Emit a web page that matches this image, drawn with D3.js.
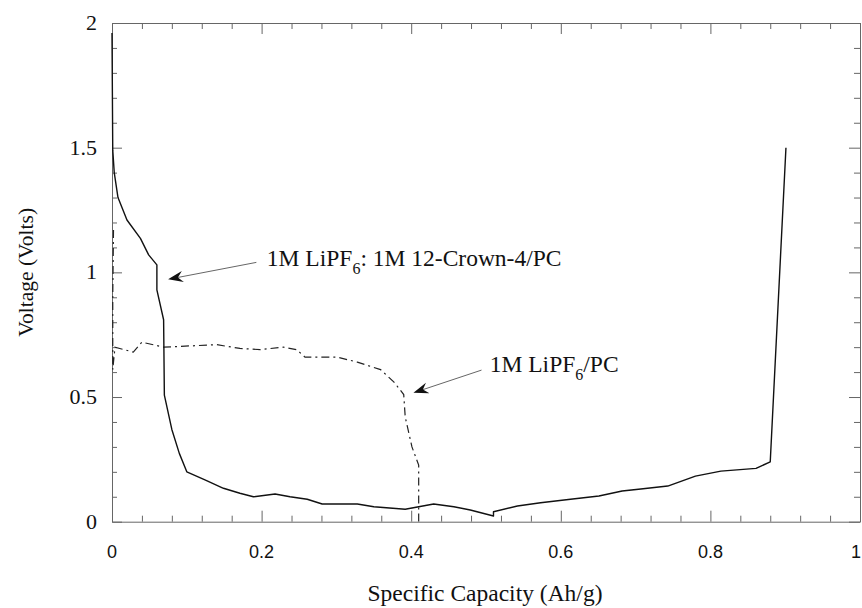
<!DOCTYPE html>
<html>
<head>
<meta charset="utf-8">
<script src="https://cdnjs.cloudflare.com/ajax/libs/d3/7.8.5/d3.min.js"></script>
<style>
  html, body { margin: 0; padding: 0; background: #fff; }
  svg { display: block; }
</style>
</head>
<body>
<div id="chart"></div>
<script>
// ---- Data ----
const crownCapacity = [0, 0.001, 0.003, 0.008, 0.020, 0.038, 0.049, 0.060, 0.060, 0.069, 0.070, 0.080, 0.090, 0.100, 0.125, 0.149, 0.171, 0.189, 0.218, 0.238, 0.261, 0.281, 0.328, 0.350, 0.392, 0.430, 0.457, 0.479, 0.510, 0.510, 0.542, 0.573, 0.613, 0.651, 0.682, 0.707, 0.743, 0.780, 0.814, 0.861, 0.880, 0.901];
const crownVoltage  = [1.96, 1.49, 1.40, 1.30, 1.21, 1.136, 1.07, 1.03, 0.93, 0.81, 0.508, 0.37, 0.274, 0.20, 0.167, 0.134, 0.114, 0.10, 0.111, 0.10, 0.09, 0.071, 0.071, 0.06, 0.05, 0.071, 0.06, 0.047, 0.023, 0.04, 0.063, 0.076, 0.09, 0.103, 0.123, 0.131, 0.143, 0.183, 0.203, 0.214, 0.24, 1.50];

const pcCapacity = [0.002, 0.001, 0.001, 0.004, 0.0285, 0.040, 0.069, 0.140, 0.171, 0.198, 0.229, 0.247, 0.258, 0.301, 0.328, 0.359, 0.377, 0.390, 0.392, 0.401, 0.410, 0.410];
const pcVoltage  = [1.17, 0.90, 0.61, 0.70, 0.68, 0.72, 0.70, 0.71, 0.695, 0.69, 0.70, 0.69, 0.66, 0.66, 0.64, 0.61, 0.56, 0.51, 0.42, 0.30, 0.227, 0.0];

const xTickLabels = ["0", "0.2", "0.4", "0.6", "0.8", "1"];
const xTickValues = [0, 0.2, 0.4, 0.6, 0.8, 1];
const yTickLabels = ["0", "0.5", "1", "1.5", "2"];
const yTickValues = [0, 0.5, 1, 1.5, 2];

const xTitle = "Specific Capacity (Ah/g)";
const yTitle = "Voltage (Volts)";

// annotations (data units)
const annoMain = ["1M LiPF", "1M LiPF"];
const annoSub = ["6", "6"];
const annoRest = [": 1M 12-Crown-4/PC", "/PC"];
const annoTextX = [0.207, 0.505];
const annoTextY = [1.025, 0.600];
const annoFromX = [0.193, 0.494];
const annoFromY = [1.040, 0.608];
const annoTipX = [0.075, 0.403];
const annoTipY = [0.972, 0.517];

// ---- Layout ----
const W = 862, H = 608;
const mLeft = 112, mRight = 860, mTop = 23, mBottom = 521.7;

const svg = d3.select("#chart").append("svg")
  .attr("width", W).attr("height", H);

const x = d3.scaleLinear().domain([0, 1]).range([mLeft, mRight]);
const y = d3.scaleLinear().domain([0, 2]).range([mBottom, mTop]);

const serif = "'Liberation Serif', 'Times New Roman', serif";
const sans = "'Liberation Sans', Arial, sans-serif";
const frameColor = "#666";

const xMinor = d3.range(0, 1.0001, 0.04).map(v => +v.toFixed(2));
const yMinor = d3.range(0, 2.0001, 0.1).map(v => +v.toFixed(1));

function isMajorX(v) { return Math.abs(v * 5 - Math.round(v * 5)) < 1e-6; }
function isMajorY(v) { return Math.abs(v * 2 - Math.round(v * 2)) < 1e-6; }

const bottomAxis = d3.axisBottom(x).tickValues(xMinor).tickFormat("").tickSizeOuter(0).tickSizeInner(-6);
const topAxis = d3.axisTop(x).tickValues(xMinor).tickFormat("").tickSizeOuter(0).tickSizeInner(-6);
const leftAxis = d3.axisLeft(y).tickValues(yMinor).tickFormat("").tickSizeOuter(0).tickSizeInner(-5);
const rightAxis = d3.axisRight(y).tickValues(yMinor).tickFormat("").tickSizeOuter(0).tickSizeInner(-6);

function styleAxis(g, majorFn, dir, majorLen) {
  g.select(".domain").attr("stroke", frameColor).attr("stroke-width", 1);
  g.selectAll(".tick line").attr("stroke", frameColor).attr("stroke-width", 1)
    .each(function(d) {
      if (majorFn(d)) {
        const sel = d3.select(this);
        if (dir === "x") sel.attr("y2", +sel.attr("y2") > 0 ? majorLen : -majorLen);
        else sel.attr("x2", +sel.attr("x2") > 0 ? majorLen : -majorLen);
      }
    });
}

const gB = svg.append("g").attr("transform", `translate(0,${mBottom})`).call(bottomAxis);
styleAxis(gB, isMajorX, "x", 11);
const gT = svg.append("g").attr("transform", `translate(0,${mTop})`).call(topAxis);
styleAxis(gT, isMajorX, "x", 11);
const gL = svg.append("g").attr("transform", `translate(${mLeft},0)`).call(leftAxis);
styleAxis(gL, isMajorY, "y", 10);
const gR = svg.append("g").attr("transform", `translate(${mRight},0)`).call(rightAxis);
styleAxis(gR, isMajorY, "y", 11);

// tick labels
const lastX = xTickValues.length - 1;
svg.append("g").selectAll("text").data(xTickValues).join("text")
  .attr("x", (d, i) => i === lastX ? x(d) + 1 : x(d)).attr("y", 558)
  .attr("text-anchor", (d, i) => i === lastX ? "end" : "middle")
  .attr("font-family", sans).attr("font-size", 18).attr("fill", "#111")
  .text((d, i) => xTickLabels[i]);

svg.append("g").selectAll("text").data(yTickValues).join("text")
  .attr("x", mLeft - 15).attr("y", d => y(d) + 7)
  .attr("text-anchor", "end")
  .attr("font-family", serif).attr("font-size", 22).attr("fill", "#111")
  .text((d, i) => yTickLabels[i]);

// axis titles
svg.append("text")
  .attr("x", 485).attr("y", 601)
  .attr("text-anchor", "middle")
  .attr("font-family", serif).attr("font-size", 23.5).attr("fill", "#111")
  .text(xTitle);

svg.append("text")
  .attr("transform", `translate(33,${(mTop + mBottom) / 2}) rotate(-90)`)
  .attr("text-anchor", "middle")
  .attr("font-family", serif).attr("font-size", 21.5).attr("fill", "#111")
  .text(yTitle);

// lines
const line = d3.line().x(d => x(d[0])).y(d => y(d[1]));
const crownData = crownCapacity.map((c, i) => [c, crownVoltage[i]]);
const pcData = pcCapacity.map((c, i) => [c, pcVoltage[i]]);

svg.append("path").datum(pcData)
  .attr("d", line).attr("fill", "none")
  .attr("stroke", "#222").attr("stroke-width", 1.2)
  .attr("stroke-dasharray", "8,4,2,4");

svg.append("path").datum(crownData)
  .attr("d", line).attr("fill", "none")
  .attr("stroke", "#111").attr("stroke-width", 1.4)
  .attr("stroke-linejoin", "round");

// annotations
annoMain.forEach((m, i) => {
  const t = svg.append("text")
    .attr("x", x(annoTextX[i])).attr("y", y(annoTextY[i]))
    .attr("font-family", serif).attr("font-size", 23.5).attr("fill", "#111");
  t.append("tspan").text(m);
  t.append("tspan").attr("dy", 8).attr("font-size", 16).text(annoSub[i]);
  t.append("tspan").attr("dy", -8).text(annoRest[i]);

  const x0 = x(annoFromX[i]), y0 = y(annoFromY[i]);
  const x1 = x(annoTipX[i]), y1 = y(annoTipY[i]);
  const ang = Math.atan2(y1 - y0, x1 - x0);
  const L = 15, Wd = 5.5, notch = 10;
  svg.append("line")
    .attr("x1", x0).attr("y1", y0)
    .attr("x2", x1 - Math.cos(ang) * notch).attr("y2", y1 - Math.sin(ang) * notch)
    .attr("stroke", "#666").attr("stroke-width", 1);
  const bx = x1 - Math.cos(ang) * L, by = y1 - Math.sin(ang) * L;
  const nx = x1 - Math.cos(ang) * notch, ny = y1 - Math.sin(ang) * notch;
  const px = -Math.sin(ang), py = Math.cos(ang);
  svg.append("path")
    .attr("d", `M${x1},${y1} L${bx + px * Wd},${by + py * Wd} L${nx},${ny} L${bx - px * Wd},${by - py * Wd} Z`)
    .attr("fill", "#111");
});
</script>
</body>
</html>
